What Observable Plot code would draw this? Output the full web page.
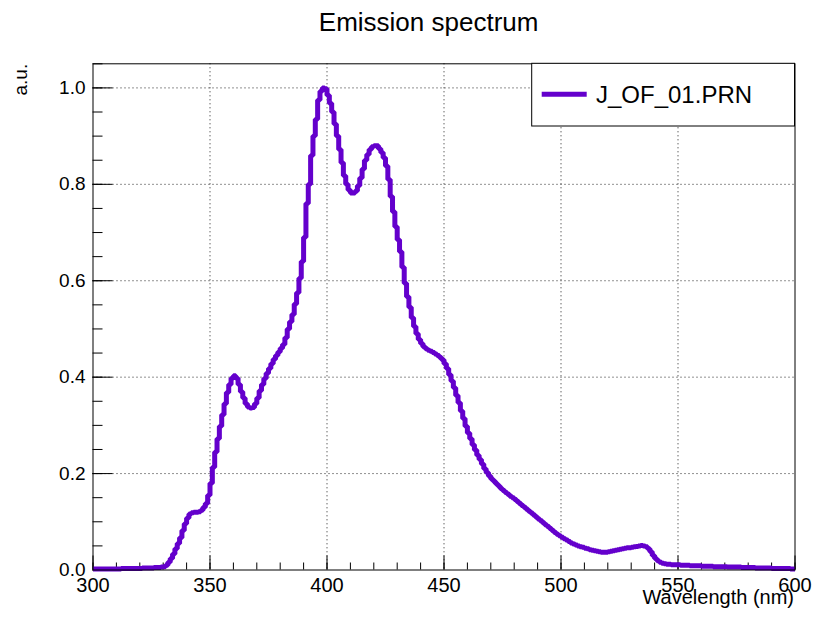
<!DOCTYPE html>
<html><head><meta charset="utf-8">
<script src="https://cdn.jsdelivr.net/npm/d3@7"></script>
<script src="https://cdn.jsdelivr.net/npm/@observablehq/plot@0.6"></script>
<style>body{margin:0;background:#fff;} #chart svg{display:block;}</style>
</head><body><div id="chart"></div>
<script>
// Histogram: 1 nm bins from 300 to 600 nm (left edges)
const binStart = 300;
const binWidth = 1;
const counts = [
  0.002,0.002,0.002,0.002,0.002,0.002,0.002,0.002,0.002,0.002,
  0.002,0.002,0.003,0.003,0.003,0.003,0.003,0.003,0.003,0.003,
  0.003,0.004,0.004,0.004,0.004,0.004,0.005,0.005,0.005,0.006,
  0.007,0.010,0.016,0.024,0.033,0.044,0.055,0.067,0.082,0.096,
  0.108,0.116,0.119,0.120,0.120,0.121,0.124,0.130,0.138,0.155,
  0.180,0.213,0.245,0.272,0.298,0.322,0.345,0.368,0.385,0.398,
  0.403,0.398,0.385,0.370,0.357,0.345,0.338,0.336,0.337,0.345,
  0.357,0.372,0.385,0.397,0.408,0.418,0.428,0.437,0.445,0.452,
  0.460,0.468,0.482,0.500,0.515,0.530,0.552,0.575,0.605,0.640,
  0.690,0.760,0.800,0.860,0.900,0.935,0.975,0.993,1.000,0.998,
  0.985,0.968,0.950,0.925,0.900,0.872,0.845,0.818,0.800,0.788,
  0.782,0.782,0.786,0.797,0.813,0.832,0.850,0.862,0.872,0.878,
  0.880,0.880,0.874,0.866,0.855,0.838,0.810,0.775,0.743,0.712,
  0.685,0.660,0.628,0.595,0.567,0.545,0.523,0.505,0.490,0.478,
  0.470,0.463,0.459,0.456,0.454,0.451,0.448,0.445,0.441,0.436,
  0.428,0.418,0.405,0.392,0.378,0.362,0.347,0.330,0.314,0.298,
  0.284,0.272,0.260,0.249,0.238,0.229,0.220,0.210,0.202,0.195,
  0.189,0.184,0.179,0.174,0.169,0.165,0.161,0.157,0.153,0.150,
  0.146,0.142,0.138,0.134,0.130,0.126,0.122,0.118,0.114,0.110,
  0.106,0.102,0.098,0.094,0.090,0.086,0.082,0.078,0.074,0.071,
  0.068,0.065,0.062,0.059,0.056,0.054,0.052,0.050,0.048,0.047,
  0.045,0.044,0.042,0.041,0.040,0.039,0.038,0.037,0.037,0.037,
  0.038,0.039,0.040,0.041,0.042,0.043,0.044,0.045,0.046,0.046,
  0.047,0.048,0.049,0.050,0.051,0.050,0.048,0.044,0.038,0.030,
  0.024,0.019,0.016,0.014,0.013,0.012,0.012,0.011,0.011,0.011,
  0.011,0.010,0.010,0.010,0.010,0.009,0.009,0.009,0.009,0.009,
  0.008,0.008,0.008,0.008,0.008,0.007,0.007,0.007,0.007,0.007,
  0.007,0.006,0.006,0.006,0.006,0.006,0.006,0.005,0.005,0.005,
  0.005,0.005,0.005,0.004,0.004,0.004,0.004,0.004,0.004,0.004,
  0.003,0.003,0.003,0.003,0.003,0.003,0.003,0.003,0.002,0.002
];
const xMajorTicks = [300, 350, 400, 450, 500, 550, 600];
const xGridTicks = [350, 400, 450, 500, 550];
const xMinorTicks = [300,310,320,330,340,350,360,370,380,390,400,410,420,430,440,450,460,470,480,490,500,510,520,530,540,550,560,570,580,590,600];
const yMajorTicks = [0, 0.2, 0.4, 0.6, 0.8, 1.0];
const yGridTicks = [0.2, 0.4, 0.6, 0.8, 1.0];
const yMinorTicks = [0,0.05,0.1,0.15,0.2,0.25,0.3,0.35,0.4,0.45,0.5,0.55,0.6,0.65,0.7,0.75,0.8,0.85,0.9,0.95,1.0,1.05];
const seriesName = "J_OF_01.PRN";
const titleText = "Emission spectrum";
const xLabel = "Wavelength (nm)";
const yLabel = "a.u.";

const rows = counts.map((v, i) => ({x: binStart + i * binWidth, y: v}));
rows.push({x: binStart + counts.length * binWidth, y: counts[counts.length - 1]});

const W = 813, H = 631;
const mL = 92.5, mR = 18.5, mT = 63.3, mB = 61.5;
const frameW = W - mL - mR, frameH = H - mT - mB;
const color = "#6400cc";
const font = "'Liberation Sans', Arial, Helvetica, sans-serif";

const plot = Plot.plot({
  width: W, height: H,
  marginLeft: mL, marginRight: mR, marginTop: mT, marginBottom: mB,
  style: {fontFamily: font, color: "black", background: "white"},
  x: {domain: [300, 600], label: null},
  y: {domain: [0, 1.05], label: null},
  marks: [
    Plot.ruleX(xGridTicks, {stroke: "#222", strokeWidth: 1, strokeDasharray: "1,3"}),
    Plot.ruleY(yGridTicks, {stroke: "#222", strokeWidth: 1, strokeDasharray: "1,3"}),
    Plot.ruleX(xMinorTicks, {insetTop: frameH - 7, stroke: "black", strokeWidth: 1}),
    Plot.ruleX(xMajorTicks, {insetTop: frameH - 14, stroke: "black", strokeWidth: 1}),
    Plot.ruleY(yMinorTicks, {insetRight: frameW - 10, stroke: "black", strokeWidth: 1}),
    Plot.ruleY(yMajorTicks, {insetRight: frameW - 20, stroke: "black", strokeWidth: 1}),
    Plot.axisX(xMajorTicks, {tickSize: 0, tickPadding: 7.5, fontSize: 20, label: null}),
    Plot.axisY(yMajorTicks, {tickSize: 0, tickPadding: 7.5, fontSize: 19, label: null, tickFormat: d3.format(".1f")}),
    Plot.line(rows, {x: "x", y: "y", curve: "step-after", stroke: color, strokeWidth: 5, strokeLinejoin: "miter", strokeLinecap: "butt"}),
    Plot.frame({stroke: "black", strokeWidth: 1}),
    Plot.text([titleText], {frameAnchor: "top-left", textAnchor: "start", lineAnchor: "bottom", dx: 225.8, dy: -33.3, fontSize: 26, fill: "black"}),
    Plot.text([xLabel], {frameAnchor: "bottom-right", textAnchor: "end", lineAnchor: "bottom", dx: -1, dy: 33.5, fontSize: 20, fill: "black"}),
    Plot.text([yLabel], {frameAnchor: "top-left", textAnchor: "end", lineAnchor: "bottom", rotate: -90, dx: -65.8, dy: 0, fontSize: 19, fill: "black"})
  ]
});

// Legend box (ROOT TLegend style)
const svg = d3.select(plot);
const lg = svg.append("g").attr("font-family", font).attr("text-anchor", "start");
lg.append("rect").attr("x", 531.7).attr("y", 63.3).attr("width", 262.8).attr("height", 62.7)
  .attr("fill", "white").attr("stroke", "black").attr("stroke-width", 1);
lg.append("line").attr("x1", 541.7).attr("x2", 586.7).attr("y1", 94.3).attr("y2", 94.3)
  .attr("stroke", color).attr("stroke-width", 5);
lg.append("text").attr("x", 596).attr("y", 103.3).attr("font-size", 24).attr("fill", "black")
  .attr("text-anchor", "start").text(seriesName);

document.getElementById("chart").appendChild(plot);
</script>
</body></html>
